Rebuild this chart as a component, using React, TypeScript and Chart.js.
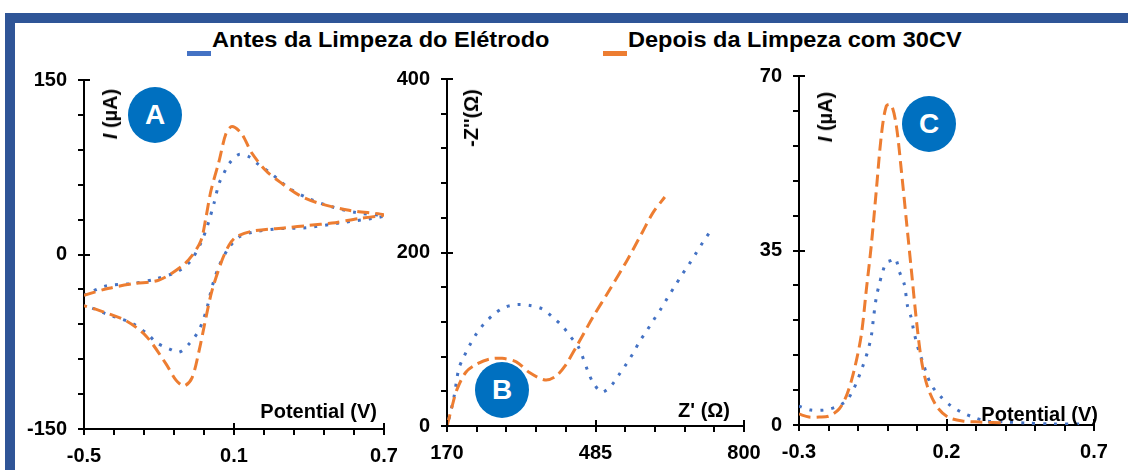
import React, { useEffect, useRef } from 'react';
import { Chart, registerables } from 'chart.js';

Chart.register(...registerables);

// ---------- data ----------
const SERIES_NAMES = ['Antes da Limpeza do Elétrodo', 'Depois da Limpeza com 30CV'];
const PANEL_LETTERS = ['A', 'B', 'C'];

// Panel A – cyclic voltammetry (Potential V, I µA)
const A_BEFORE_V = [-0.5, -0.412, -0.308, -0.212, -0.12, -0.072, -0.032, -0.012, 0.0, 0.02, 0.04, 0.06, 0.08, 0.12, 0.16, 0.2, 0.24, 0.28, 0.32, 0.4, 0.492, 0.588, 0.7,
  0.652, 0.52, 0.388, 0.268, 0.172, 0.12, 0.08, 0.04, 0.012, -0.008, -0.028, -0.048, -0.08, -0.12, -0.16, -0.208, -0.248, -0.308, -0.372, -0.412, -0.468, -0.5];
const A_BEFORE_I = [-35, -27, -25, -21, -14, -5, 10, 21, 29, 44, 61, 70, 78, 86, 84, 77, 71, 64, 57, 48, 41, 36, 33,
  31, 27, 23, 22, 19, 15, 6, -10, -28, -46, -59, -68, -77, -84, -81, -76, -68, -59, -54, -51, -46, -44];
const A_AFTER_V = [-0.5, -0.4, -0.3, -0.2, -0.108, -0.068, -0.032, -0.012, 0.008, 0.04, 0.068, 0.092, 0.13, 0.172, 0.228, 0.292, 0.36, 0.44, 0.56, 0.7,
  0.6, 0.492, 0.4, 0.308, 0.172, 0.108, 0.08, 0.052, 0.012, -0.012, -0.04, -0.068, -0.1, -0.132, -0.172, -0.252, -0.332, -0.44, -0.5];
const A_AFTER_I = [-35, -29, -25, -22, -10, -1, 12, 32, 55, 80, 104, 110, 104, 87, 72, 61, 51, 44, 38, 34,
  31, 27, 25, 23, 20, 15, 8, -5, -31, -54, -83, -106, -113, -108, -94, -70, -57, -48, -44];

// Panel B – Nyquist (Z' Ω, -Z'' Ω)
const B_BEFORE_ZR = [174, 185, 195, 206, 217, 232, 249, 270, 293, 319, 346, 372, 393, 415, 432, 449, 469, 479, 498, 519, 536, 551, 566, 579, 594, 608, 625, 638, 653, 668, 683, 698, 713, 728];
const B_BEFORE_ZI = [8, 34, 66, 80, 92, 106, 118, 129, 137, 140, 139, 135, 126, 115, 103, 91, 63, 51, 39, 47, 60, 72, 85, 98, 110, 122, 136, 148, 161, 174, 186, 199, 212, 224];
const B_AFTER_ZR = [170, 181, 191, 210, 232, 259, 287, 317, 344, 378, 400, 420, 445, 479, 515, 551, 585, 607, 632];
const B_AFTER_ZI = [0, 23, 42, 62, 71, 77, 78, 74, 62, 53, 57, 69, 92, 125, 157, 190, 224, 246, 264];

// Panel C – differential pulse voltammetry (Potential V, I µA)
const C_BEFORE_V = [-0.3, -0.26, -0.215, -0.175, -0.14, -0.12, -0.103, -0.085, -0.068, -0.055, -0.048, -0.038, -0.028, -0.017, -0.004, 0.013, 0.027, 0.04, 0.057, 0.068, 0.08, 0.088, 0.098, 0.108, 0.122, 0.135, 0.153, 0.182, 0.216, 0.25, 0.289, 0.335, 0.404, 0.47, 0.56, 0.65];
const C_BEFORE_I = [3.8, 3, 3, 3.6, 4.8, 6.6, 8.8, 11.6, 14.6, 17.8, 21.2, 25.6, 28.2, 30.6, 32.6, 33, 33.4, 30.8, 28.2, 23.8, 21.6, 19.2, 16.6, 14.6, 12.2, 9.8, 7.6, 5.6, 3.8, 2.6, 1.6, 0.8, 0.6, 0.4, 0.2, 0.2];
const C_AFTER_V = [-0.3, -0.266, -0.232, -0.198, -0.164, -0.137, -0.113, -0.089, -0.072, -0.055, -0.038, -0.021, -0.004, 0.013, 0.03, 0.047, 0.064, 0.081, 0.098, 0.115, 0.135, 0.166, 0.204, 0.254, 0.312, 0.4];
const C_AFTER_I = [2.2, 1.6, 1.6, 1.8, 3.2, 6.2, 11, 18, 27, 36, 47, 58, 64, 64.2, 60, 51, 41, 31, 21, 13, 7.8, 3.8, 1.6, 0.8, 0.6, 0.4];

// axes
const A_X_LABELS = [-0.5, 0.1, 0.7];
const A_Y_LABELS = [-150, 0, 150];
const B_X_LABELS = [170, 485, 800];
const B_Y_LABELS = [0, 200, 400];
const C_X_LABELS = [-0.3, 0.2, 0.7];
const C_Y_LABELS = [0, 35, 70];
const AXIS_TITLES = {
  aY: 'I (µA)', aX: 'Potential (V)',
  bY: "-Z''(Ω)", bX: "Z' (Ω)",
  cY: 'I (µA)', cX: 'Potential (V)',
};

// ---------- style ----------
const FONT = "'Liberation Sans', Arial, Helvetica, sans-serif";
const BLUE = '#4472C4';
const ORANGE = '#ED7D31';
const BADGE = '#0070C0';
const FRAME = '#2F5597';

Chart.defaults.font.family = FONT;

const toXY = (xs: number[], ys: number[]) => xs.map((x, i) => ({ x, y: ys[i] }));

function makeScale(labels: number[], divisions: number, size: number, horizontal: boolean) {
  const min = labels[0];
  const max = labels[labels.length - 1];
  return {
    type: 'linear',
    min,
    max,
    afterBuildTicks: (scale: any) => {
      scale.ticks = Array.from({ length: divisions + 1 }, (_, i) => ({ value: min + ((max - min) * i) / divisions }));
    },
    afterFit: (scale: any) => {
      if (horizontal) scale.height = size;
      else scale.width = size;
    },
    grid: { drawOnChartArea: false, drawTicks: true, tickLength: 6, color: '#000', lineWidth: 2 },
    border: { display: true, color: '#000', width: 2 },
    ticks: {
      autoSkip: false,
      maxRotation: 0,
      minRotation: 0,
      padding: horizontal ? 9 : 11,
      color: '#000',
      font: { family: FONT, size: 20, weight: 'bold' },
      callback: (v: number) => {
        const m = labels.find((l) => Math.abs(l - v) < (max - min) * 1e-6);
        return m === undefined ? '' : String(m);
      },
    },
  };
}

const crossTicks = {
  id: 'crossTicks',
  afterDraw(chart: any, _args: any, opts: any) {
    const { ctx, chartArea } = chart;
    const xs = chart.scales.x;
    const ys = chart.scales.y;
    ctx.save();
    ctx.strokeStyle = '#000';
    ctx.lineWidth = 2;
    for (const v of opts.x || []) {
      const px = Math.round(xs.getPixelForValue(v));
      ctx.beginPath();
      ctx.moveTo(px, chartArea.bottom);
      ctx.lineTo(px, chartArea.bottom - 6);
      ctx.stroke();
    }
    for (const v of opts.y || []) {
      const py = Math.round(ys.getPixelForValue(v));
      ctx.beginPath();
      ctx.moveTo(chartArea.left, py);
      ctx.lineTo(chartArea.left + 6, py);
      ctx.stroke();
    }
    ctx.restore();
  },
};

type PanelProps = {
  before: { x: number; y: number }[];
  after: { x: number; y: number }[];
  xLabels: number[];
  yLabels: number[];
  box: { left: number; top: number; width: number; height: number };
  pad: { top: number; right: number };
  ySize: number;
  xSize: number;
};

function Panel(p: PanelProps) {
  const ref = useRef<HTMLCanvasElement>(null);
  useEffect(() => {
    if (!ref.current) return;
    const chart = new Chart(ref.current, {
      type: 'scatter',
      data: {
        datasets: [
          {
            label: SERIES_NAMES[1],
            data: p.after,
            showLine: true,
            borderColor: ORANGE,
            borderWidth: 3,
            borderDash: [12, 6],
            pointRadius: 0,
            tension: 0.3,
            fill: false,
          },
          {
            label: SERIES_NAMES[0],
            data: p.before,
            showLine: true,
            borderColor: BLUE,
            borderWidth: 3,
            borderDash: [3, 8],
            pointRadius: 0,
            tension: 0.3,
            fill: false,
          },
        ],
      },
      options: {
        animation: false,
        responsive: false,
        maintainAspectRatio: false,
        layout: { padding: { top: p.pad.top, right: p.pad.right, left: 0, bottom: 0 } },
        plugins: {
          legend: { display: false },
          tooltip: { enabled: false },
          crossTicks: { x: p.xLabels, y: p.yLabels },
        } as any,
        scales: {
          x: makeScale(p.xLabels, 10, p.xSize, true),
          y: makeScale(p.yLabels, 10, p.ySize, false),
        } as any,
      },
      plugins: [crossTicks],
    } as any);
    return () => chart.destroy();
  }, []);
  return (
    <canvas
      ref={ref}
      width={p.box.width}
      height={p.box.height}
      style={{ position: 'absolute', left: p.box.left, top: p.box.top, width: p.box.width, height: p.box.height }}
    />
  );
}

const textBase: React.CSSProperties = {
  position: 'absolute',
  fontFamily: FONT,
  fontWeight: 'bold',
  color: '#000',
  whiteSpace: 'nowrap',
  fontSize: 20,
  lineHeight: '20px',
};

function VTitle({ cx, cy, children }: { cx: number; cy: number; children: React.ReactNode }) {
  return (
    <div style={{ ...textBase, left: cx, top: cy, transform: 'translate(-50%, -50%) rotate(-90deg)' }}>{children}</div>
  );
}

function HTitle({ right, baseline, text }: { right: number; baseline: number; text: string }) {
  return <div style={{ ...textBase, right: 1128 - right, top: baseline - 17 }}>{text}</div>;
}

function Badge({ cx, cy, letter }: { cx: number; cy: number; letter: string }) {
  const rx = 27;
  const ry = 28;
  return (
    <div
      style={{
        position: 'absolute',
        left: cx - rx,
        top: cy - ry,
        width: rx * 2,
        height: ry * 2,
        borderRadius: '50%',
        background: BADGE,
        color: '#fff',
        fontFamily: FONT,
        fontWeight: 'bold',
        fontSize: 28,
        display: 'flex',
        alignItems: 'center',
        justifyContent: 'center',
      }}
    >
      {letter}
    </div>
  );
}

function LegendItem({ left, color, text }: { left: number; color: string; text: string }) {
  return (
    <>
      <div style={{ position: 'absolute', left, top: 51, width: 24, height: 5, background: color }} />
      <div
        style={{
          ...textBase,
          left: left + 25,
          top: 29,
          fontSize: 22,
          lineHeight: '22px',
          transform: 'scaleX(1.07)',
          transformOrigin: 'left center',
        }}
      >
        {text}
      </div>
    </>
  );
}

export default function App() {
  return (
    <div
      style={{
        position: 'fixed',
        left: 0,
        top: 0,
        width: 1128,
        height: 470,
        background: '#fff',
        overflow: 'hidden',
      }}
    >
      {/* frame */}
      <div style={{ position: 'absolute', left: 5, top: 13, width: 1123, height: 10, background: FRAME }} />
      <div style={{ position: 'absolute', left: 5, top: 13, width: 10, height: 457, background: FRAME }} />

      <LegendItem left={187} color={BLUE} text={SERIES_NAMES[0]} />
      <LegendItem left={603} color={ORANGE} text={SERIES_NAMES[1]} />

      <Panel
        before={toXY(A_BEFORE_V, A_BEFORE_I)}
        after={toXY(A_AFTER_V, A_AFTER_I)}
        xLabels={A_X_LABELS}
        yLabels={A_Y_LABELS}
        box={{ left: 0, top: 40, width: 410, height: 430 }}
        pad={{ top: 40, right: 26 }}
        ySize={84}
        xSize={41}
      />
      <Panel
        before={toXY(B_BEFORE_ZR, B_BEFORE_ZI)}
        after={toXY(B_AFTER_ZR, B_AFTER_ZI)}
        xLabels={B_X_LABELS}
        yLabels={B_Y_LABELS}
        box={{ left: 380, top: 40, width: 390, height: 430 }}
        pad={{ top: 39, right: 26 }}
        ySize={67}
        xSize={44}
      />
      <Panel
        before={toXY(C_BEFORE_V, C_BEFORE_I)}
        after={toXY(C_AFTER_V, C_AFTER_I)}
        xLabels={C_X_LABELS}
        yLabels={C_Y_LABELS}
        box={{ left: 740, top: 40, width: 388, height: 430 }}
        pad={{ top: 36, right: 34 }}
        ySize={59}
        xSize={45}
      />

      <VTitle cx={110} cy={114}>
        <i>I</i> {AXIS_TITLES.aY.slice(2)}
      </VTitle>
      <HTitle right={377} baseline={418} text={AXIS_TITLES.aX} />
      <VTitle cx={471} cy={118}>{AXIS_TITLES.bY}</VTitle>
      <HTitle right={730} baseline={417} text={AXIS_TITLES.bX} />
      <VTitle cx={825} cy={117}>
        <i>I</i> {AXIS_TITLES.cY.slice(2)}
      </VTitle>
      <HTitle right={1098} baseline={421} text={AXIS_TITLES.cX} />

      <Badge cx={155} cy={115} letter={PANEL_LETTERS[0]} />
      <Badge cx={502} cy={390} letter={PANEL_LETTERS[1]} />
      <Badge cx={929} cy={124} letter={PANEL_LETTERS[2]} />
    </div>
  );
}
